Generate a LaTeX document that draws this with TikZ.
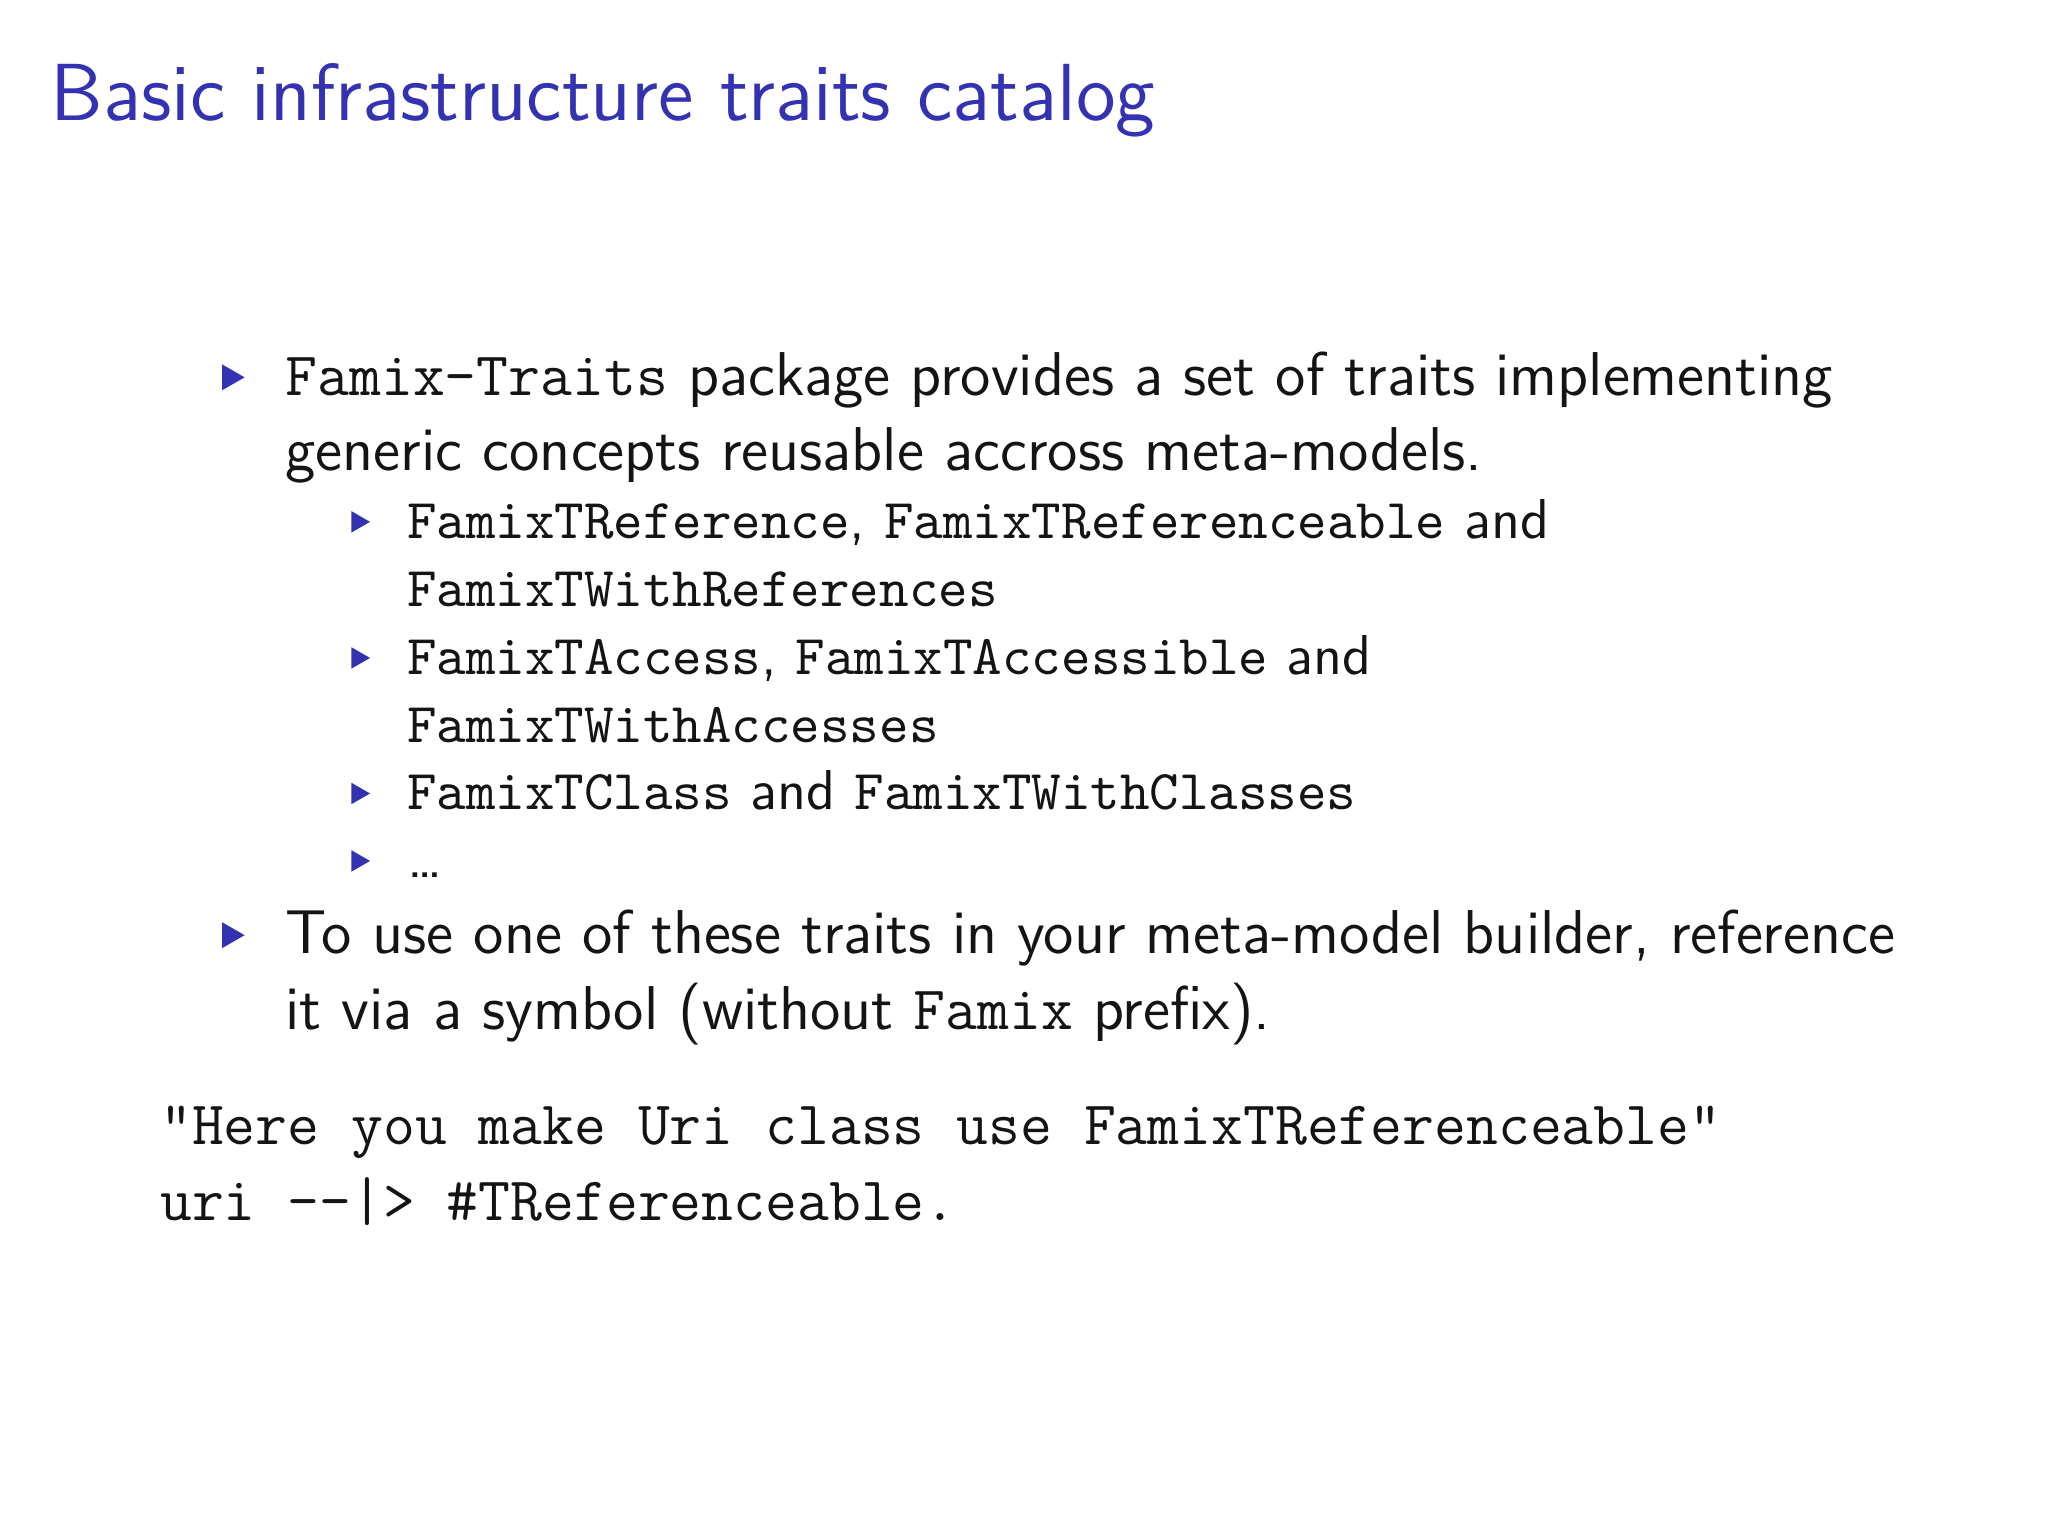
\documentclass[tikz,border=0pt]{standalone}
\usepackage{fontspec}
\definecolor{struct}{RGB}{51,51,178}
\definecolor{txt}{RGB}{20,20,20}
\tikzset{
  ln/.style={anchor=base west,inner sep=0pt,text=txt,font=\sffamily\fontsize{11}{13}\selectfont},
  sub/.style={anchor=base west,inner sep=0pt,text=txt,font=\sffamily\fontsize{10}{12}\selectfont},
  code/.style={anchor=base west,inner sep=0pt,text=txt,font=\ttfamily\fontsize{11}{13}\selectfont},
  tri/.style={fill=struct,draw=none}
}
\newcommand{\bigtri}[2]{\fill[struct] (#1pt,-#2pt+1pt) -- ++(0,4.6pt) -- ++(4pt,-2.3pt) -- cycle;}
\newcommand{\smalltri}[2]{\fill[struct] (#1pt,-#2pt+1pt) -- ++(0,3.8pt) -- ++(3.3pt,-1.9pt) -- cycle;}
\begin{document}
\begin{tikzpicture}
\useasboundingbox[fill=white] (0,0) rectangle (364.19pt,-273.14pt);
\node[anchor=base west,inner sep=0pt,text=struct,font=\sffamily\fontsize{14.4}{17}\selectfont] (title) at (8.8pt,-21.4pt) {Basic infrastructure traits catalog};
\bigtri{39.5}{70.4}
\node[ln] (b1a) at (50.6pt,-70.4pt) {\texttt{Famix-Traits} package provides a set of traits implementing};
\node[ln] (b1b) at (50.6pt,-83.6pt) {generic concepts reusable accross meta-models.};
\smalltri{62.5}{95.7}
\node[sub] (s1a) at (72.2pt,-95.7pt) {\texttt{FamixTReference}, \texttt{FamixTReferenceable} and};
\node[sub] (s1b) at (72.2pt,-107.9pt) {\texttt{FamixTWithReferences}};
\smalltri{62.5}{119.9}
\node[sub] (s2a) at (72.2pt,-119.9pt) {\texttt{FamixTAccess}, \texttt{FamixTAccessible} and};
\node[sub] (s2b) at (72.2pt,-132pt) {\texttt{FamixTWithAccesses}};
\smalltri{62.5}{144}
\node[sub] (s3) at (72.2pt,-144pt) {\texttt{FamixTClass} and \texttt{FamixTWithClasses}};
\smalltri{62.5}{156}
\node[sub] (s4) at (72.2pt,-156pt) {\dots};
\bigtri{39.5}{169.6}
\node[ln] (b2a) at (50.6pt,-169.6pt) {To use one of these traits in your meta-model builder, reference};
\node[ln] (b2b) at (50.6pt,-183pt) {it via a symbol (without \texttt{Famix} prefix).};
\node[code] (c1) at (28.3pt,-203.5pt) {"Here you make Uri class use FamixTReferenceable"};
\node[code] (c2) at (28.3pt,-217pt) {uri --|> \#TReferenceable.};
\end{tikzpicture}
\end{document}
